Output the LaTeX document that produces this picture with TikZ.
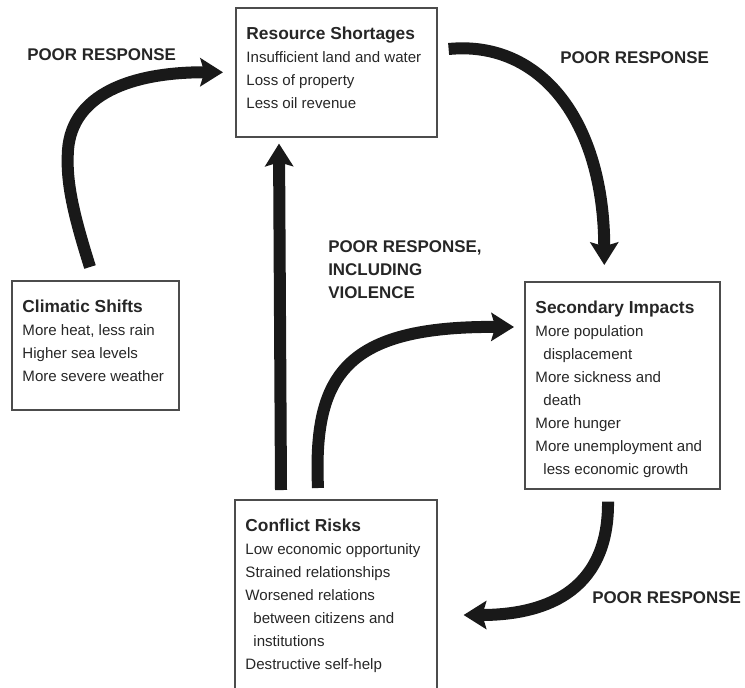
\documentclass[tikz,border=0pt]{standalone}
\usepackage{fontspec}
\setmainfont{Liberation Sans}
\usetikzlibrary{arrows.meta,calc}

\begin{document}
\begin{tikzpicture}[x=0.75pt,y=-0.75pt,
   panel/.style={draw=black!70,line width=1.2pt,anchor=north west,
      inner xsep=8pt,inner ysep=8pt,text=black!85,
      font=\fontsize{11.3}{17.3}\selectfont},
   resp/.style={inner sep=0pt,text=black!85,
      font=\fontsize{12.7}{17.25}\selectfont\bfseries},
   flow/.style={line width=9pt,draw=black!90,
      -{Stealth[length=17pt,width=21pt,inset=3pt]}}]

\useasboundingbox (0,0) rectangle (745,687);

\node[panel] (res) at (235,7) {\parbox[t][80.75pt][t]{134.75pt}{\rule{0pt}{15.5pt}{\fontsize{13}{17.3}\selectfont\bfseries Resource Shortages}\\
   Insufficient land and water\\
   Loss of property\\
   Less oil revenue}};

\node[panel] (clim) at (11,280) {\parbox[t][80.75pt][t]{109.25pt}{\rule{0pt}{15.5pt}{\fontsize{13}{17.3}\selectfont\bfseries Climatic Shifts}\\
   More heat, less rain\\
   Higher sea levels\\
   More severe weather}};

\node[panel] (sec) at (524,281) {\parbox[t][139.25pt][t]{130.25pt}{\rule{0pt}{15.5pt}{\fontsize{13}{17.3}\selectfont\bfseries Secondary Impacts}\\
   More population\\
   \hspace*{6pt}displacement\\
   More sickness and\\
   \hspace*{6pt}death\\
   More hunger\\
   More unemployment and\\
   \hspace*{6pt}less economic growth}};

\node[panel] (con) at (234,499) {\parbox[t][134pt][t]{135.5pt}{\rule{0pt}{15.5pt}{\fontsize{13}{17.3}\selectfont\bfseries Conflict Risks}\\
   Low economic opportunity\\
   Strained relationships\\
   Worsened relations\\
   \hspace*{6pt}between citizens and\\
   \hspace*{6pt}institutions\\
   Destructive self-help}};

\node[resp,anchor=west] (pr1) at (27,55) {POOR RESPONSE};
\node[resp,anchor=west] (pr2) at (560,58) {POOR RESPONSE};
\node[resp,anchor=north west,align=left] (pr3) at (328,240)
   {POOR RESPONSE,\\INCLUDING\\VIOLENCE};
\node[resp,anchor=west] (pr4) at (592,598) {POOR RESPONSE};

\draw[flow] ($(clim.north west)+(79,-13)$) .. controls (72,210) and (66,180) .. (68,150)
   .. controls (72,95) and (130,72) .. ([xshift=-9pt]res.west);
\draw[flow] ($(res.north east)+(11,42)$) .. controls (540,40) and (604,120)
   .. ($(sec.north)+(-18,-16)$);
\draw[flow] ($(con.north west)+(47,-9)$) -- ($(res.south west)+(44,6)$);
\draw[flow] ($(con.north west)+(84,-11)$) .. controls (313,375) and (345,326)
   .. ($(sec.north west)+(-10,46)$);
\draw[flow] ($(sec.south west)+(84,12)$) .. controls (609,595) and (540,615)
   .. ($(con.north east)+(26,116)$);

\end{tikzpicture}
\end{document}
